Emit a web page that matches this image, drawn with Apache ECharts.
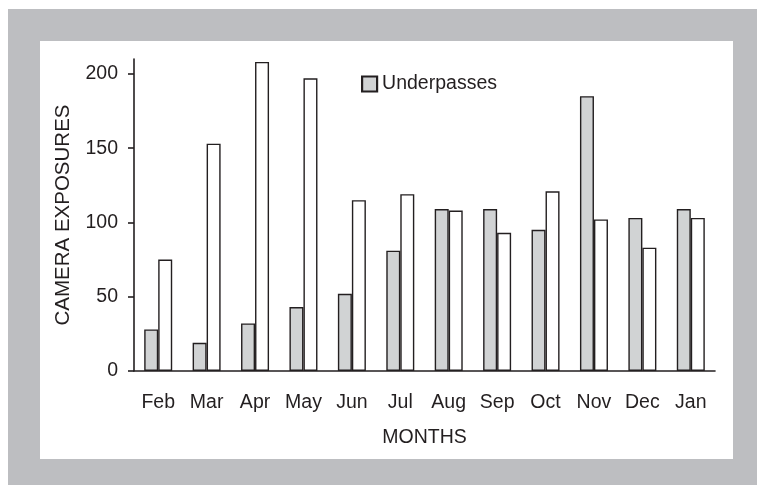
<!DOCTYPE html>
<html>
<head>
<meta charset="utf-8">
<title>Camera exposures</title>
<style>
html, body {
  margin: 0;
  padding: 0;
  background: #ffffff;
}
#container {
  width: 757px;
  height: 485px;
}
</style>
<script src="https://cdn.jsdelivr.net/npm/echarts@6/dist/echarts.min.js"></script>
</head>
<body>
<div id="container"></div>
<script type="text/javascript">
// data
var months = ['Feb', 'Mar', 'Apr', 'May', 'Jun', 'Jul', 'Aug', 'Sep', 'Oct', 'Nov', 'Dec', 'Jan'];
var underpasses = [28, 19, 32, 43, 52, 81, 109, 109, 95, 185, 103, 109];
var overpasses = [75, 153, 208, 197, 115, 119, 108, 93, 121, 102, 83, 103];
var yTicks = [0, 50, 100, 150, 200];

var ink = '#231f20';
var font = 'Liberation Sans, Arial, Helvetica, sans-serif';

var myChart = echarts.init(document.getElementById('container'), null, { renderer: 'canvas' });

var option = {
  backgroundColor: '#ffffff',
  animation: false,
  textStyle: { fontFamily: font, color: ink },
  // grey frame with white panel
  graphic: [
    {
      type: 'rect', z: -20, silent: true,
      shape: { x: 8, y: 9, width: 749, height: 476 },
      style: { fill: '#bdbec1' }
    },
    {
      type: 'rect', z: -19, silent: true,
      shape: { x: 40, y: 41, width: 693, height: 418 },
      style: { fill: '#ffffff' }
    }
  ],
  legend: {
    data: ['Underpasses'],
    icon: 'rect',
    left: 361,
    top: 74,
    padding: 0,
    itemWidth: 15,
    itemHeight: 15,
    itemStyle: { borderColor: ink, borderWidth: 2.2 },
    textStyle: { fontFamily: font, fontSize: 19.5, color: ink }
  },
  grid: {
    left: 134,
    right: 42,
    top: 59,
    bottom: 114
  },
  xAxis: {
    type: 'category',
    data: months,
    boundaryGap: true,
    name: 'MONTHS',
    nameLocation: 'middle',
    nameGap: 57,
    nameTextStyle: { fontFamily: font, fontSize: 19.5, color: ink },
    axisLine: { lineStyle: { color: ink, width: 1.6 } },
    axisTick: { length: 6, lineStyle: { color: ink, width: 1.6 } },
    axisLabel: { margin: 22, fontSize: 19.5, color: ink, fontFamily: font, interval: 0 },
    splitLine: { show: false }
  },
  yAxis: {
    type: 'value',
    min: 0,
    max: 210,
    name: 'CAMERA EXPOSURES',
    nameLocation: 'middle',
    nameGap: 60,
    nameTextStyle: { fontFamily: font, fontSize: 20.5, color: ink },
    axisLine: { show: true, lineStyle: { color: ink, width: 1.6 } },
    axisTick: { show: true, length: 6, customValues: yTicks, lineStyle: { color: ink, width: 1.6 } },
    axisLabel: { margin: 16, fontSize: 19.5, color: ink, fontFamily: font, customValues: yTicks },
    splitLine: { show: false }
  },
  series: [
    {
      name: 'Underpasses',
      type: 'bar',
      data: underpasses,
      barWidth: 14,
      barGap: '0%',
      itemStyle: { color: '#d1d3d4', borderColor: ink, borderWidth: 1.4 }
    },
    {
      name: 'Overpasses',
      type: 'bar',
      data: overpasses,
      barWidth: 14,
      barGap: '0%',
      itemStyle: { color: '#ffffff', borderColor: ink, borderWidth: 1.4 }
    }
  ]
};

if (option && typeof option === "object") {
  myChart.setOption(option, true);
}
</script>
</body>
</html>
